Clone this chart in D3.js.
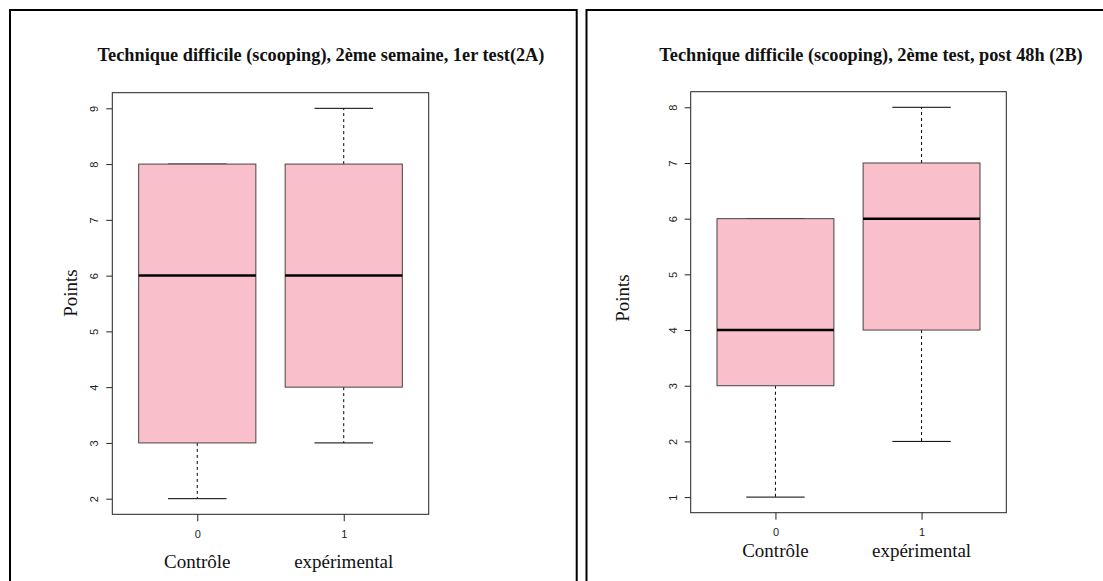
<!DOCTYPE html>
<html><head><meta charset="utf-8">
<script src="https://cdn.jsdelivr.net/npm/d3@7"></script>
<style>body{margin:0;background:#fff} svg{display:block}</style>
</head><body><svg id="c" width="1103" height="581"></svg>
<script>
// ---- data ----
const categories = ["0", "1"];
const groupLabels = ["Contrôle", "expérimental"];
const titleA = "Technique difficile (scooping), 2ème semaine, 1er test(2A)";
const titleB = "Technique difficile (scooping), 2ème test, post 48h (2B)";
const yLabel = "Points";
// five-number summaries: [min, Q1, median, Q3, max]
const statsA_controle = [2, 3, 6, 8, 8];
const statsA_experimental = [3, 4, 6, 8, 9];
const statsB_controle = [1, 3, 4, 6, 6];
const statsB_experimental = [2, 4, 6, 7, 8];
const ticksA = [2, 3, 4, 5, 6, 7, 8, 9];
const ticksB = [1, 2, 3, 4, 5, 6, 7, 8];

// ---- layout ----
const panels = [
  {title: titleA, stats: [statsA_controle, statsA_experimental], ticks: ticksA,
   frameX: 10, left: 112.3, right: 428.7, top: 92.7, bottom: 514.3,
   titleX: 321, titleY: 61, ylabX: 70, ylabY: 293, groupY: 561},
  {title: titleB, stats: [statsB_controle, statsB_experimental], ticks: ticksB,
   frameX: 586.5, left: 690.7, right: 1006.3, top: 91.7, bottom: 512.7,
   titleX: 871, titleY: 61, ylabX: 622, ylabY: 298, groupY: 550}
];

const svg = d3.select("#c");
const serif = "'Liberation Serif','Times New Roman',serif";
const sans = "'Liberation Sans',Arial,sans-serif";

panels.forEach(p => {
  // outer frame
  svg.append("path")
    .attr("d", `M${p.frameX},581 V10 H${p.frameX + 566.7} V581`)
    .attr("fill", "none").attr("stroke", "#000").attr("stroke-width", 2);

  const lo = d3.min(p.ticks), hi = d3.max(p.ticks), ext = (hi - lo) * 0.04;
  const y = d3.scaleLinear().domain([lo - ext, hi + ext]).range([p.bottom, p.top]);
  const x = d3.scaleLinear().domain([0.42, 2.58]).range([p.left, p.right]);
  const g = svg.append("g");

  // boxes
  p.stats.forEach((s, i) => {
    const cx = x(i + 1), hw = x(1.4) - x(1), sw = x(1.2) - x(1);
    const [mn, q1, md, q3, mx] = s;
    g.append("line").attr("x1", cx).attr("x2", cx).attr("y1", y(q1)).attr("y2", y(mn))
      .attr("stroke", "#000").attr("stroke-dasharray", "3,3");
    g.append("line").attr("x1", cx).attr("x2", cx).attr("y1", y(q3)).attr("y2", y(mx))
      .attr("stroke", "#000").attr("stroke-dasharray", "3,3");
    [mn, mx].forEach(v => g.append("line").attr("x1", cx - sw).attr("x2", cx + sw)
      .attr("y1", y(v)).attr("y2", y(v)).attr("stroke", "#000"));
    g.append("rect").attr("x", cx - hw).attr("width", 2 * hw)
      .attr("y", y(q3)).attr("height", y(q1) - y(q3))
      .attr("fill", "#f9bfca").attr("stroke", "#444");
    g.append("line").attr("x1", cx - hw).attr("x2", cx + hw).attr("y1", y(md)).attr("y2", y(md))
      .attr("stroke", "#000").attr("stroke-width", 2.5);
  });

  // plot frame
  g.append("rect").attr("x", p.left).attr("y", p.top)
    .attr("width", p.right - p.left).attr("height", p.bottom - p.top)
    .attr("fill", "none").attr("stroke", "#222");

  // y axis
  const ya = g.append("g").attr("transform", `translate(${p.left},0)`)
    .call(d3.axisLeft(y).tickValues(p.ticks).tickSize(6).tickFormat(d3.format("d")));
  ya.select(".domain").remove();
  ya.selectAll("line").attr("stroke", "#222");
  ya.selectAll("text").attr("x", 0).attr("dy", "0.35em")
    .attr("transform", "translate(-18,0) rotate(-90)")
    .attr("text-anchor", "middle").attr("font-family", sans).attr("font-size", 11).attr("fill", "#222");

  // x axis
  const xa = g.append("g").attr("transform", `translate(0,${p.bottom})`)
    .call(d3.axisBottom(x).tickValues([1, 2]).tickSize(7).tickFormat((d, i) => categories[i]));
  xa.select(".domain").remove();
  xa.selectAll("line").attr("stroke", "#222");
  xa.selectAll("text").attr("y", 19.5).attr("dy", "0.35em")
    .attr("font-family", sans).attr("font-size", 11).attr("fill", "#222");

  // group labels
  groupLabels.forEach((t, i) => {
    svg.append("text").attr("x", x(i + 1)).attr("y", p.groupY).attr("dy", "0.35em")
      .attr("text-anchor", "middle").attr("font-family", serif).attr("font-size", 19)
      .attr("fill", "#111").text(t);
  });

  // y label
  svg.append("text").attr("transform", `translate(${p.ylabX},${p.ylabY}) rotate(-90)`)
    .attr("dy", "0.35em").attr("text-anchor", "middle")
    .attr("font-family", serif).attr("font-size", 19).attr("fill", "#111").text(yLabel);

  // title
  svg.append("text").attr("x", p.titleX).attr("y", p.titleY)
    .attr("text-anchor", "middle").attr("font-family", serif).attr("font-weight", "bold")
    .attr("font-size", 18.3).attr("fill", "#111").text(p.title);
});
</script>
</body></html>
